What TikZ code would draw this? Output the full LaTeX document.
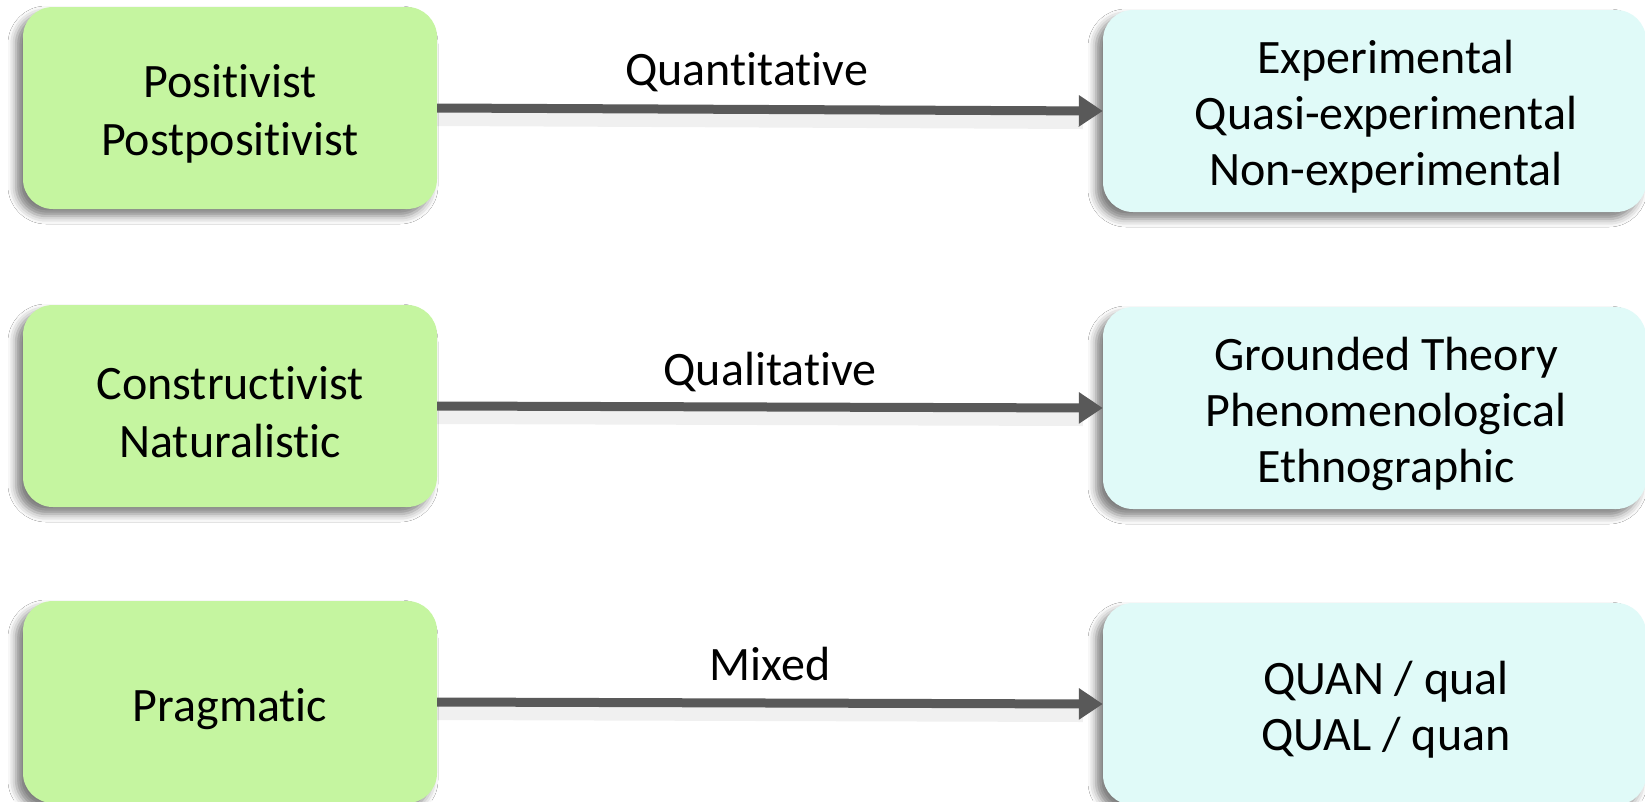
\documentclass[tikz,border=0pt]{standalone}
\usepackage{fontspec}
\setmainfont{Carlito}[Ligatures={NoCommon,NoContextual},RawFeature={-liga;-clig;-calt}]
\usetikzlibrary{arrows.meta,shadows.blur}
\definecolor{boxgreen}{RGB}{197,245,160}
\definecolor{boxcyan}{RGB}{224,250,248}
\definecolor{arrgray}{RGB}{89,89,89}
\tikzset{
  basebox/.style={rounded corners=30pt, inner sep=0pt,
    blur shadow={shadow xshift=-7pt, shadow yshift=-7pt, shadow blur radius=8pt, shadow opacity=50}},
  leftbox/.style={basebox, fill=boxgreen, minimum width=414pt, minimum height=202pt},
  rightbox/.style={basebox, fill=boxcyan, minimum width=543pt, minimum height=202pt},
  lefttxt/.style={align=center, inner sep=0pt, font=\fontsize{48}{58}\selectfont},
  righttxt/.style={align=center, inner sep=0pt, font=\fontsize{48}{56}\selectfont},
  arr/.style={draw=arrgray, line width=9pt, -{Triangle[length=24pt,width=30pt]}},
  arrshadow/.style={draw=black, opacity=0.06, line width=22pt},
  lbl/.style={font=\fontsize{48}{56}\selectfont, inner sep=0pt, anchor=base}
}
\begin{document}
\begin{tikzpicture}[x=1pt,y=-1pt]
\useasboundingbox (0,0) rectangle (1645,801);
\fill[white] (0,0) rectangle (1645,801);
% boxes
\node[leftbox] (L1) at (230,108) {};
\node[leftbox] (L2) at (230,406) {};
\node[leftbox] (L3) at (230,702) {};
\node[rightbox] (R1) at (1374.5,111) {};
\node[rightbox] (R2) at (1374.5,408) {};
\node[rightbox] (R3) at (1374.5,704) {};
% box texts
\node[lefttxt] (L1t) at (230,114) {Positivist\\Postpositivist};
\node[lefttxt] (L2t) at (230,412) {Constructivist\\Naturalistic};
\node[lefttxt] (L3t) at (230,709) {Pragmatic};
\node[righttxt] (R1t) at (1386,117) {Experimental\\Quasi-experimental\\Non-experimental};
\node[righttxt] (R2t) at (1386,414) {Grounded Theory\\Phenomenological\\Ethnographic};
\node[righttxt] (R3t) at (1386,710) {QUAN / qual\\QUAL / quan};
% arrow shadows
\draw[arrshadow] ([yshift=-7pt]L1.east) -- ([yshift=-7pt,xshift=-20pt]R1.west);
\draw[arrshadow] ([yshift=-7pt]L2.east) -- ([yshift=-7pt,xshift=-20pt]R2.west);
\draw[arrshadow] ([yshift=-7pt]L3.east) -- ([yshift=-7pt,xshift=-20pt]R3.west);
% arrows
\draw[arr] (L1.east) -- (R1.west) node[lbl, pos=0.465, yshift=24pt] (T1) {Quantitative};
\draw[arr] (L2.east) -- (R2.west) node[lbl, midway, yshift=22pt] (T2) {Qualitative};
\draw[arr] (L3.east) -- (R3.west) node[lbl, midway, yshift=23pt] (T3) {Mixed};
\end{tikzpicture}
\end{document}
